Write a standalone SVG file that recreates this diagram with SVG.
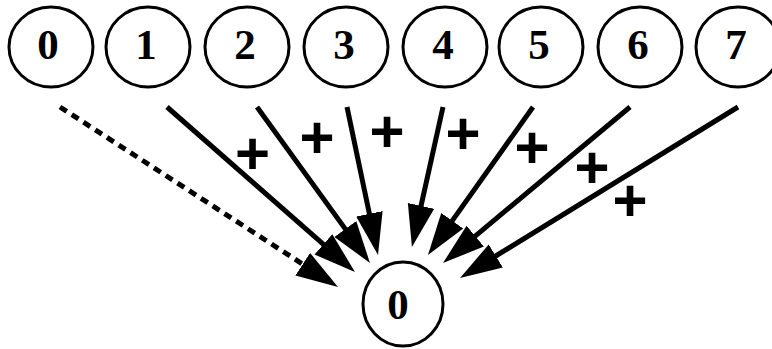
<svg xmlns="http://www.w3.org/2000/svg" width="772" height="349" viewBox="0 0 772 349">
<style>
.node ellipse{fill:#fff;stroke:#000;stroke-width:3}
.node text{font-family:"Liberation Serif","Times New Roman",serif;font-weight:bold;font-size:43px;text-anchor:middle;fill:#000}
.edge{stroke:#000;stroke-width:5;fill:none}
.dash{stroke-dasharray:8 6}
.plus{font-family:"Liberation Sans",Arial,sans-serif;font-weight:bold;font-size:60px;text-anchor:middle;fill:#000}
</style>
<defs>
<marker id="ah" markerUnits="userSpaceOnUse" viewBox="0 -15 44 30" markerWidth="44" markerHeight="30" refX="2" refY="0" orient="auto">
<path d="M0,-13.5 L42,0 L0,13.5 z" fill="#000"/>
</marker>
</defs>
<g class="node" id="t0"><ellipse cx="51" cy="47" rx="42" ry="40"/><text x="48" y="59">0</text></g>
<g class="node" id="t1"><ellipse cx="148" cy="47" rx="42" ry="40"/><text x="146" y="59">1</text></g>
<g class="node" id="t2"><ellipse cx="247" cy="47" rx="42" ry="40"/><text x="245" y="59">2</text></g>
<g class="node" id="t3"><ellipse cx="346" cy="47" rx="42" ry="40"/><text x="344" y="59">3</text></g>
<g class="node" id="t4"><ellipse cx="445" cy="47" rx="42" ry="40"/><text x="443" y="59">4</text></g>
<g class="node" id="t5"><ellipse cx="541" cy="47" rx="42" ry="40"/><text x="539" y="59">5</text></g>
<g class="node" id="t6"><ellipse cx="640" cy="47" rx="42" ry="40"/><text x="638" y="59">6</text></g>
<g class="node" id="t7"><ellipse cx="738" cy="47" rx="42" ry="40"/><text x="736" y="59">7</text></g>
<g class="node" id="b0"><ellipse cx="403" cy="304" rx="40" ry="42"/><text x="398" y="319">0</text></g>
<g id="edges">
<line class="edge dash" x1="60" y1="107" x2="304.4" y2="265.3" marker-end="url(#ah)"/>
<line class="edge" x1="167" y1="107" x2="324.9" y2="245.6" marker-end="url(#ah)"/>
<line class="edge" x1="257" y1="107" x2="346.5" y2="230.6" marker-end="url(#ah)"/>
<line class="edge" x1="347" y1="107" x2="369.8" y2="215.8" marker-end="url(#ah)"/>
<line class="edge" x1="443" y1="107" x2="420.6" y2="207.9" marker-end="url(#ah)"/>
<line class="edge" x1="533" y1="107" x2="451.1" y2="222.4" marker-end="url(#ah)"/>
<line class="edge" x1="630" y1="107" x2="473.7" y2="237.4" marker-end="url(#ah)"/>
<line class="edge" x1="738" y1="107" x2="494.1" y2="257.0" marker-end="url(#ah)"/>
<text class="plus" x="252.5" y="174">+</text>
<text class="plus" x="317" y="158">+</text>
<text class="plus" x="387" y="152">+</text>
<text class="plus" x="463" y="154">+</text>
<text class="plus" x="532" y="168">+</text>
<text class="plus" x="592" y="188">+</text>
<text class="plus" x="630" y="221">+</text>
</g>
</svg>
